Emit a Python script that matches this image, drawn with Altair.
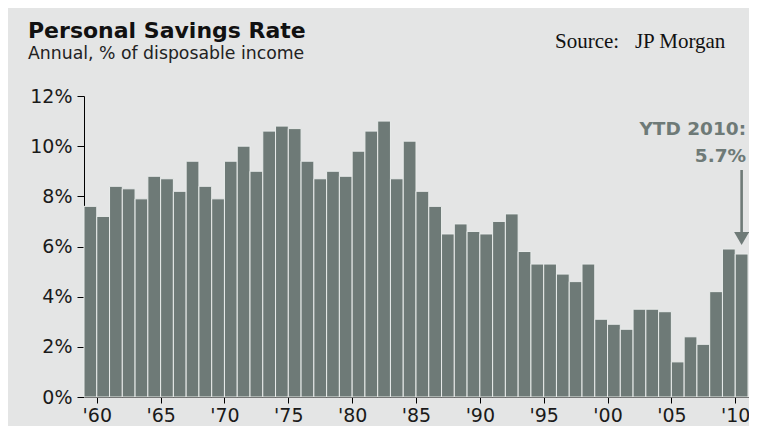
import altair as alt
import pandas as pd

years = list(range(1959, 2011))
rates = [7.6, 7.2, 8.4, 8.3, 7.9, 8.8, 8.7, 8.2, 9.4, 8.4,
         7.9, 9.4, 10.0, 9.0, 10.6, 10.8, 10.7, 9.4, 8.7, 9.0,
         8.8, 9.8, 10.6, 11.0, 8.7, 10.2, 8.2, 7.6, 6.5, 6.9,
         6.6, 6.5, 7.0, 7.3, 5.8, 5.3, 5.3, 4.9, 4.6, 5.3,
         3.1, 2.9, 2.7, 3.5, 3.5, 3.4, 1.4, 2.4, 2.1, 4.2,
         5.9, 5.7]
x_ticks = [1960, 1965, 1970, 1975, 1980, 1985, 1990, 1995, 2000, 2005, 2010]
y_ticks = [0, 2, 4, 6, 8, 10, 12]

note_lines = ["YTD 2010:", "5.7%"]
note_x = [2010.85, 2010.85]
note_y = [10.45, 9.38]
arrow = {"x": 2010.5, "y": 9.05, "y2": 6.55, "tip": 6.32}

title_text = "Personal Savings Rate"
subtitle_text = "Annual, % of disposable income"
source_text = "Source:\u00a0\u00a0\u00a0JP Morgan"

BAR = "#6e7a77"
BG = "#e4e5e5"

df = pd.DataFrame({"year": years, "rate": rates})
df["year_end"] = df["year"] + 1

xscale = alt.Scale(domain=[1959, 2011], nice=False, zero=False)
yscale = alt.Scale(domain=[0, 12], nice=False)

bars = alt.Chart(df).mark_bar(color=BAR, stroke="#e9eceb", strokeWidth=1).encode(
    x=alt.X("year:Q", scale=xscale, title=None,
            axis=alt.Axis(title=None, values=x_ticks, grid=False,
                          labelExpr="\"'\" + slice(toString(datum.value), 2)",
                          tickSize=6, labelPadding=3, labelFlush=False,
                          labelOverlap=False)),
    x2="year_end:Q",
    y=alt.Y("rate:Q", scale=yscale, title=None,
            axis=alt.Axis(title=None, values=y_ticks, grid=False,
                          labelExpr="datum.value + '%'",
                          tickSize=7, labelPadding=5)),
    y2=alt.datum(0),
)

notes_df = pd.DataFrame({"x": note_x, "y": note_y, "label": note_lines})
notes = alt.Chart(notes_df).mark_text(
    align="right", baseline="alphabetic", font="DejaVu Sans", fontSize=18.5,
    fontWeight="bold", color=BAR
).encode(
    x=alt.X("x:Q", scale=xscale, title=None),
    y=alt.Y("y:Q", scale=yscale, title=None),
    text="label:N",
)

arrow_df = pd.DataFrame([arrow])
shaft = alt.Chart(arrow_df).mark_rule(color=BAR, strokeWidth=2.6).encode(
    x=alt.X("x:Q", scale=xscale, title=None),
    y=alt.Y("y:Q", scale=yscale, title=None),
    y2="y2:Q",
)
head = alt.Chart(arrow_df).mark_point(
    shape="triangle-down", filled=True, size=225, color=BAR, opacity=1
).encode(
    x=alt.X("x:Q", scale=xscale, title=None),
    y=alt.Y("tip:Q", scale=yscale, title=None),
)

texts_df = pd.DataFrame({"t": [title_text, subtitle_text, source_text]})
title_mark = alt.Chart(texts_df).transform_filter(
    alt.datum.t == title_text
).mark_text(
    align="left", baseline="alphabetic", font="DejaVu Sans", fontSize=22,
    fontWeight="bold", color="#111"
).encode(x=alt.value(-56), y=alt.value(-58), text="t:N")

subtitle_mark = alt.Chart(texts_df).transform_filter(
    alt.datum.t == subtitle_text
).mark_text(
    align="left", baseline="alphabetic", font="DejaVu Sans", fontSize=17.3,
    color="#222"
).encode(x=alt.value(-56), y=alt.value(-37.5), text="t:N")

source_mark = alt.Chart(texts_df).transform_filter(
    alt.datum.t == source_text
).mark_text(
    align="left", baseline="alphabetic", font="Liberation Serif", fontSize=21,
    color="#111"
).encode(x=alt.value(471), y=alt.value(-48), text="t:N")

chart = alt.layer(
    bars, shaft, head, notes, title_mark, subtitle_mark, source_mark
).properties(
    width=664,
    height=301,
    autosize=alt.AutoSizeParams(type="none"),
    padding={"left": 76, "top": 88, "right": 1, "bottom": 29},
    background=BG,
).configure_view(stroke=None).configure_axis(
    domainColor="#000", tickColor="#000", domainWidth=1, tickWidth=1,
    labelFont="DejaVu Sans", labelFontSize=19, labelColor="#1a1a1a",
    grid=False,
)

chart.save("out.html", embed_options={"renderer": "svg", "actions": False})
